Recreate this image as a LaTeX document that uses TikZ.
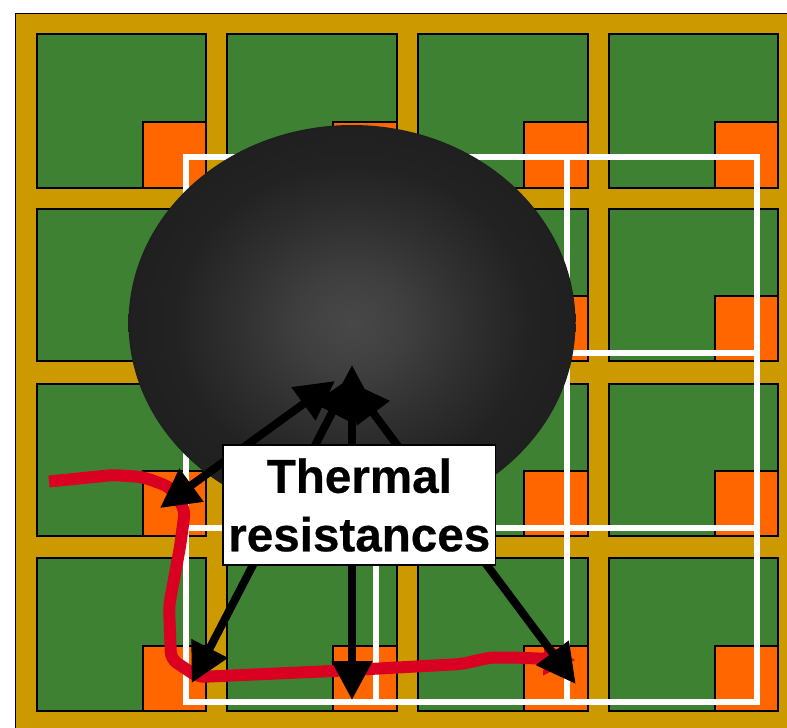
\documentclass[tikz,border=0pt]{standalone}
\usepackage{fontspec}
\setmainfont{Liberation Sans}[BoldFeatures={FakeBold=0.5}]
\usetikzlibrary{arrows.meta}
\definecolor{boardc}{HTML}{CC9900}
\definecolor{greenc}{HTML}{3E8133}
\definecolor{orangec}{HTML}{FF6600}
\definecolor{redc}{HTML}{D90022}
\pgfdeclareradialshading{ballshade}{\pgfpoint{0bp}{0bp}}{%
  color(0bp)=(rgb:black,1;white,0.39);
  color(6bp)=(rgb:black,1;white,0.33);
  color(13bp)=(rgb:black,1;white,0.23);
  color(20bp)=(rgb:black,1;white,0.155);
  color(25bp)=(rgb:black,1;white,0.14);
  color(50bp)=(rgb:black,1;white,0.14)}
\tikzset{
  board/.style={fill=boardc,draw=black,line width=1.8pt},
  cell/.style={fill=greenc,draw=black,line width=2pt},
  pad/.style={fill=orangec,draw=black,line width=2pt},
  wire/.style={draw=white,line width=5.8pt},
  flow/.style={draw=redc,line width=12pt,rounded corners=7pt,-{Triangle[length=32pt,width=31pt]}},
  resist/.style={draw=black,line width=8pt,{Triangle[length=39pt,width=39pt]}-{Triangle[length=39pt,width=39pt]}},
  labelbox/.style={fill=white,draw=black,line width=1.8pt,inner sep=0pt,minimum width=272.5pt,minimum height=120pt,align=center}
}
\begin{document}
\begin{tikzpicture}[x=1pt,y=-1pt]
\useasboundingbox (0,0) rectangle (787,728);
\clip (0,0) rectangle (787,728);
\fill[white] (0,0) rectangle (787,728);
\draw[board] (15.5,13.5) rectangle (800,740);
\foreach \xl/\xr/\xp in {36.6/206.4/142.6, 227.4/397.2/333.4, 418.2/588/524.2, 609/778.4/715}{
  \foreach \yt/\yb/\yp in {34.4/187.6/122, 209/361.4/296, 384/536/471, 558/710.6/646}{
    \draw[cell] (\xl,\yt) rectangle (\xr,\yb);
    \draw[pad] (\xp,\yp) rectangle (\xr,\yb);
  }
}
\draw[wire] (185.7,157) rectangle (757,702.3);
\draw[wire] (566.7,157) -- (566.7,702.3);
\draw[wire] (185.7,527.8) -- (757,527.8);
\draw[wire] (375.7,353) -- (757,353);
\draw[wire] (375.7,353) -- (375.7,702.3);
\shade[shading=ballshade] (352,323) ellipse [x radius=223.5,y radius=198];
\coordinate (r0) at (49,481.5);
\coordinate (r1) at (113,475);
\coordinate (r2) at (143,477);
\coordinate (r3) at (170,487);
\coordinate (r4) at (185,510);
\coordinate (r5) at (180,547);
\coordinate (r6) at (169,606);
\coordinate (r7) at (171,659);
\coordinate (r8) at (198,677);
\coordinate (r9) at (333,671);
\coordinate (r10) at (461.7,664);
\coordinate (r11) at (490,657.5);
\coordinate (r12) at (513,657.5);
\coordinate (r13) at (575.7,660);
\draw[flow] (r0) -- (r1) -- (r2) -- (r3) -- (r4) -- (r5) -- (r6) -- (r7) -- (r8) -- (r9) -- (r10) -- (r11) -- (r12) -- (r13);
\coordinate (a1) at (335,381);
\coordinate (b1) at (160,508);
\coordinate (a2) at (350,378);
\coordinate (b2) at (191.7,683);
\coordinate (a3) at (352,365);
\coordinate (b3) at (352,700);
\coordinate (a4) at (350,382);
\coordinate (b4) at (575.7,684);
\draw[resist] (a2) -- (b2);
\draw[resist] (a4) -- (b4);
\draw[resist] (a3) -- (b3);
\draw[resist] (a1) -- (b1);
\node[labelbox,font=\fontsize{47.6}{58.5}\selectfont\bfseries] (label) at (359.3,505) {Thermal\\resistances};
\end{tikzpicture}
\end{document}
